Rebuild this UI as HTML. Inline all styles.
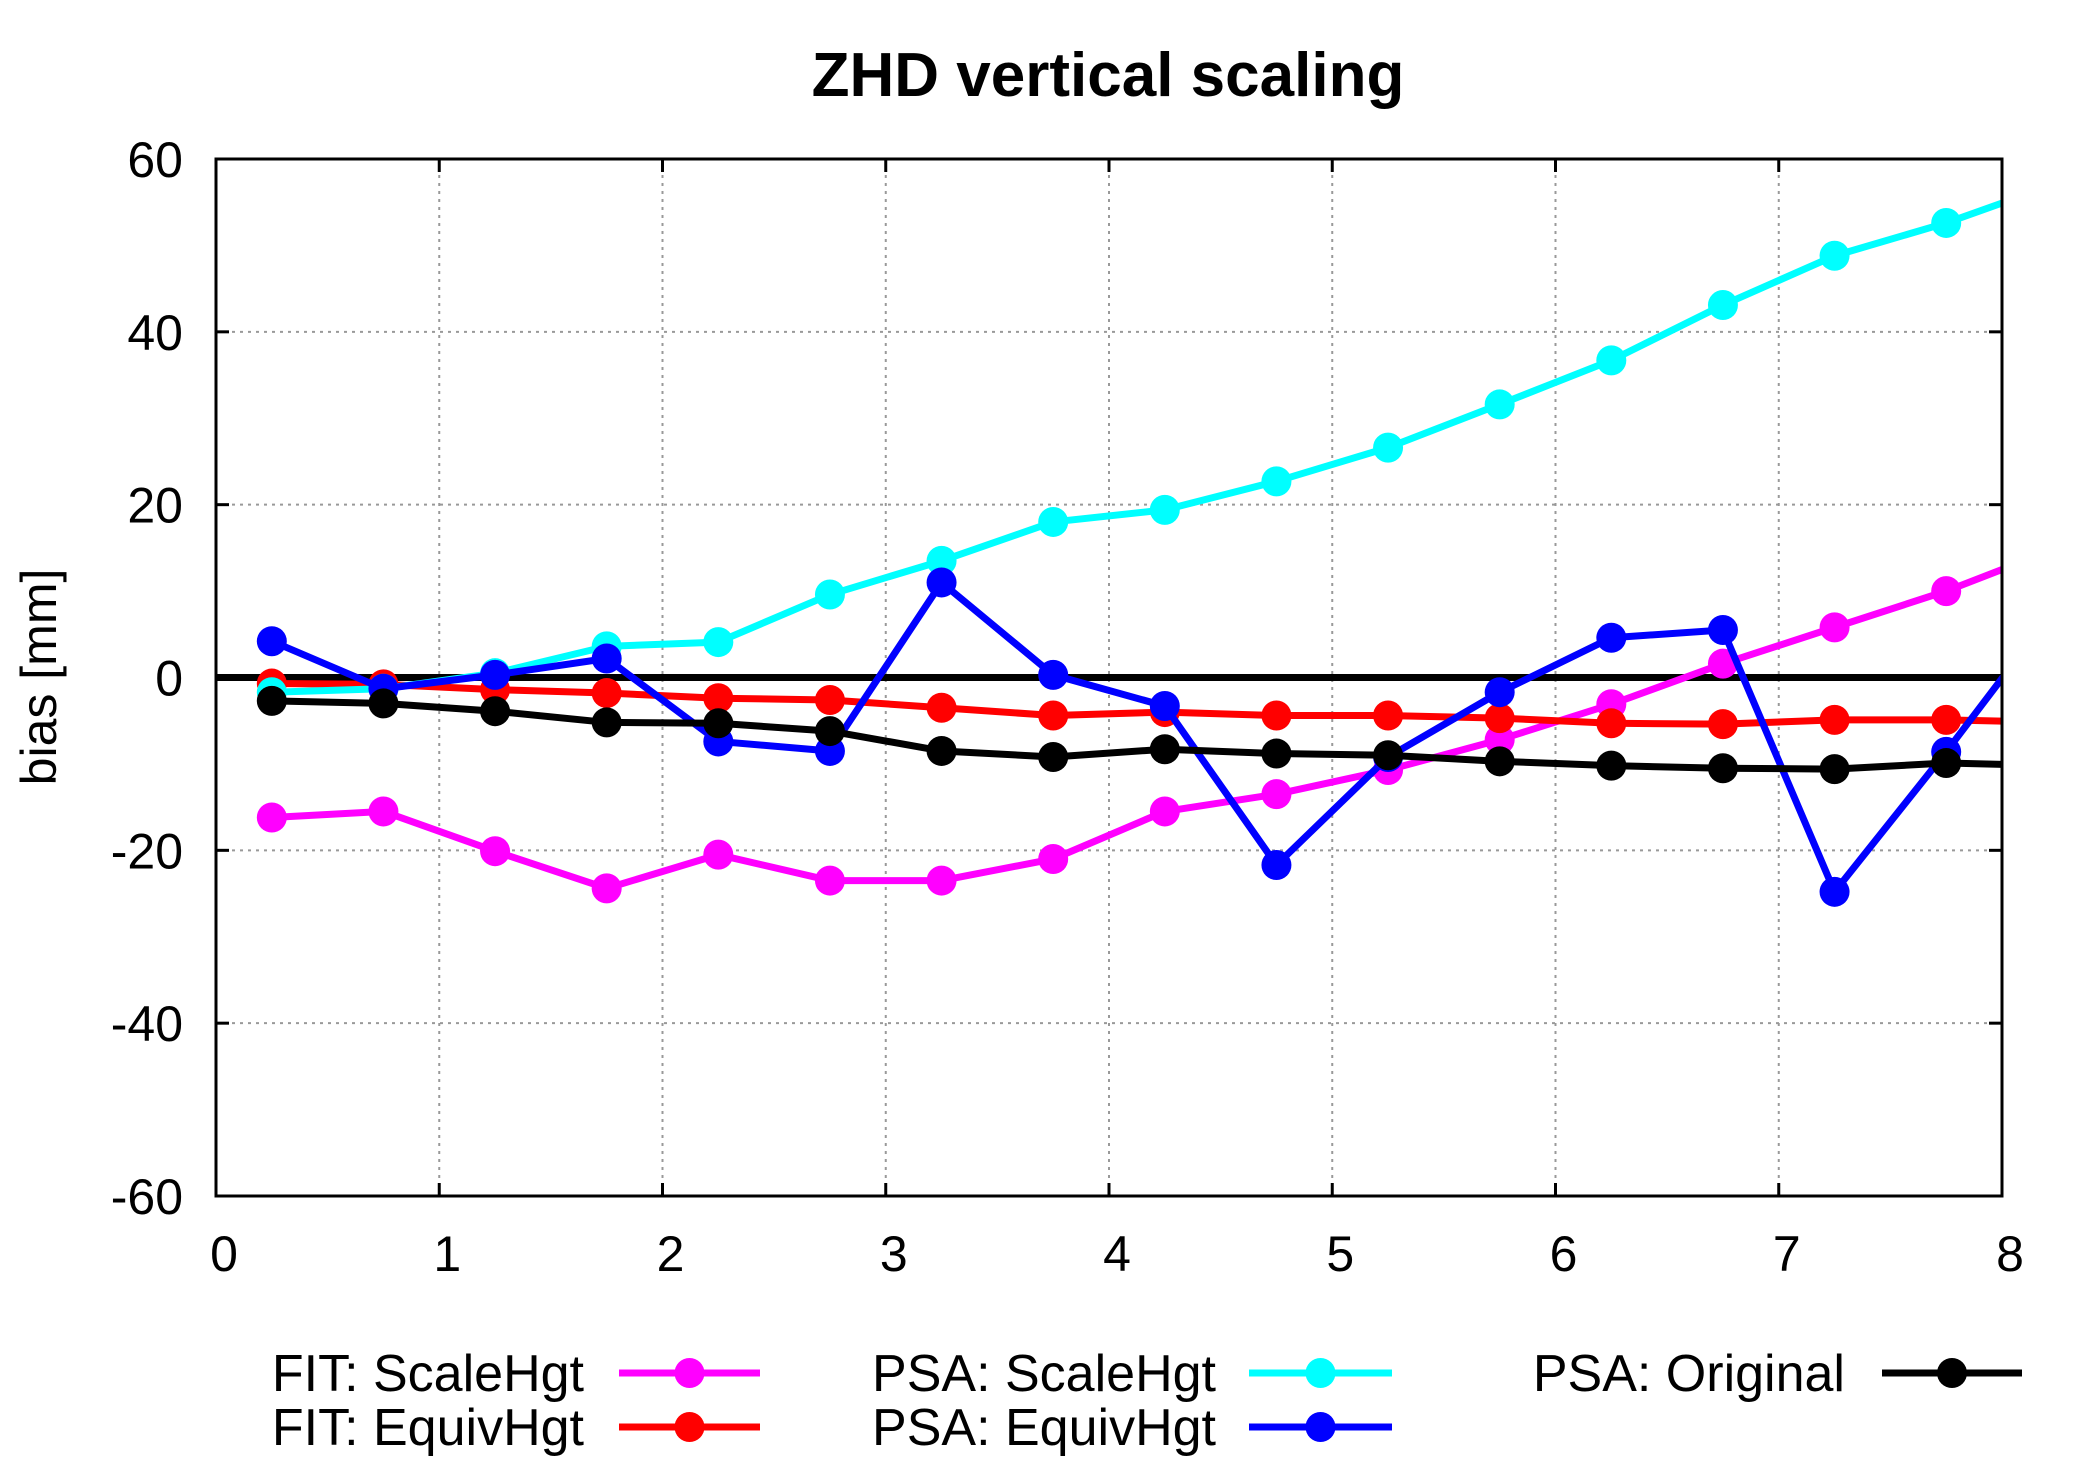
<!DOCTYPE html>
<html><head><meta charset="utf-8"><style>
html,body{margin:0;padding:0;background:#fff;}
svg{display:block;font-family:"Liberation Sans",Arial,sans-serif;}
</style></head><body>
<svg id="chart" width="2100" height="1467" viewBox="0 0 2100 1467" xmlns="http://www.w3.org/2000/svg">
<defs><clipPath id="plotclip"><rect x="216" y="159" width="1786" height="1037"/></clipPath></defs>
<text x="1108" y="96" font-size="62" font-weight="bold" text-anchor="middle">ZHD vertical scaling</text>
<text transform="translate(56,677) rotate(-90)" font-size="50" text-anchor="middle">bias [mm]</text>
<g id="grid"></g>
<g id="axes"></g>
<g id="series" clip-path="url(#plotclip)"></g>
<rect x="216" y="159" width="1786" height="1037" fill="none" stroke="#000" stroke-width="3"/>
<g id="legend"></g>
</svg>
<script>
const xValues = [0.25,0.75,1.25,1.75,2.25,2.75,3.25,3.75,4.25,4.75,5.25,5.75,6.25,6.75,7.25,7.75,8.25];
const fitScaleHgt = [-16.2,-15.5,-20.1,-24.4,-20.5,-23.5,-23.5,-21.0,-15.5,-13.5,-10.7,-7.2,-3.1,1.6,5.8,10.0,15.0];
const fitEquivHgt = [-0.7,-0.8,-1.4,-1.8,-2.4,-2.6,-3.5,-4.4,-4.0,-4.4,-4.4,-4.7,-5.3,-5.4,-4.9,-4.9,-5.2];
const psaScaleHgt = [-1.7,-1.3,0.5,3.6,4.1,9.6,13.5,18.0,19.4,22.7,26.6,31.6,36.7,43.1,48.8,52.6,57.2];
const psaEquivHgt = [4.2,-1.3,0.3,2.2,-7.4,-8.5,11.0,0.3,-3.3,-21.7,-9.2,-1.7,4.6,5.5,-24.8,-8.6,8.4];
const psaOriginal = [-2.7,-3.0,-3.9,-5.2,-5.3,-6.2,-8.5,-9.2,-8.3,-8.8,-9.0,-9.7,-10.2,-10.5,-10.6,-9.9,-10.2];
const xTicks = [0,1,2,3,4,5,6,7,8];
const yTicks = [-60,-40,-20,0,20,40,60];
const seriesNames = ["FIT: ScaleHgt","FIT: EquivHgt","PSA: ScaleHgt","PSA: EquivHgt","PSA: Original"];

const NS="http://www.w3.org/2000/svg";
const X0=216,X1=2002,Y0=1196,Y1=159;
const xMin=0,xMax=8,yMin=-60,yMax=60;
function sx(v){return X0+(v-xMin)/(xMax-xMin)*(X1-X0);}
function sy(v){return Y0-(v-yMin)/(yMax-yMin)*(Y0-Y1);}
function mk(tag,attrs,parent){const e=document.createElementNS(NS,tag);for(const k in attrs)e.setAttribute(k,attrs[k]);parent.appendChild(e);return e;}

const grid=document.getElementById('grid'),axes=document.getElementById('axes'),ser=document.getElementById('series'),leg=document.getElementById('legend');
xTicks.forEach(t=>{
  const x=sx(t);
  if(t>xMin&&t<xMax){
    const g=mk('line',{x1:x,x2:x,y1:Y1,y2:Y0,stroke:'#999','stroke-width':2,'stroke-dasharray':'3,5'},grid);
    
    
    const tk=mk('line',{x1:x,x2:x,y1:Y0,y2:Y0-13,stroke:'#000','stroke-width':3},axes);
    
    
    const tk2=mk('line',{x1:x,x2:x,y1:Y1,y2:Y1+13,stroke:'#000','stroke-width':3},axes);
    
    
  }
  const l=mk('text',{x:x+8,y:1271,'font-size':50,'text-anchor':'middle'},axes);
  l.textContent=t;
  
  
});
yTicks.forEach(t=>{
  const y=sy(t);
  if(t>yMin&&t<yMax&&t!==0){
    const g=mk('line',{x1:X0,x2:X1,y1:y,y2:y,stroke:'#999','stroke-width':2,'stroke-dasharray':'3,5'},grid);
    
    
    const tk=mk('line',{x1:X0,x2:X0+13,y1:y,y2:y,stroke:'#000','stroke-width':3},axes);
    
    
    const tk2=mk('line',{x1:X1,x2:X1-13,y1:y,y2:y,stroke:'#000','stroke-width':3},axes);
    
    
  }
  const l=mk('text',{x:183,y:y+18,'font-size':50,'text-anchor':'end'},axes);
  l.textContent=t;
  
  
});
const zl=mk('line',{x1:X0,x2:X1,y1:sy(0),y2:sy(0),stroke:'#000','stroke-width':7},ser);



const allSeries=[fitScaleHgt,fitEquivHgt,psaScaleHgt,psaEquivHgt,psaOriginal];
const colors=['#ff00ff','#ff0000','#00ffff','#0000ff','#000000'];
const slugs=['fit-scalehgt','fit-equivhgt','psa-scalehgt','psa-equivhgt','psa-original'];
allSeries.forEach((vals,i)=>{
  const pts=vals.map((v,j)=>sx(xValues[j])+','+sy(v)).join(' ');
  const pl=mk('polyline',{points:pts,fill:'none',stroke:colors[i],'stroke-width':7,'stroke-linejoin':'round'},ser);
  
  
  vals.forEach((v,j)=>{
    const c=mk('circle',{cx:sx(xValues[j]),cy:sy(v),r:15,fill:colors[i]},ser);
    
    
  });
});
// legend
const legPos=[[584,1373,619,760],[584,1427,619,760],[1216,1373,1249,1392],[1216,1427,1249,1392],[1845,1373,1882,2022]];
seriesNames.forEach((n,i)=>{
  const [tx,ty,lx0,lx1]=legPos[i];
  const g=mk('g',{},leg);
  
  
  const t=mk('text',{x:tx,y:ty+18,'font-size':52,'text-anchor':'end'},g);
  t.textContent=n;
  
  
  const l=mk('line',{x1:lx0,x2:lx1,y1:ty,y2:ty,stroke:colors[i],'stroke-width':7},g);
  
  
  const c=mk('circle',{cx:(lx0+lx1)/2,cy:ty,r:15,fill:colors[i]},g);
  
  
});
</script>
</body></html>
